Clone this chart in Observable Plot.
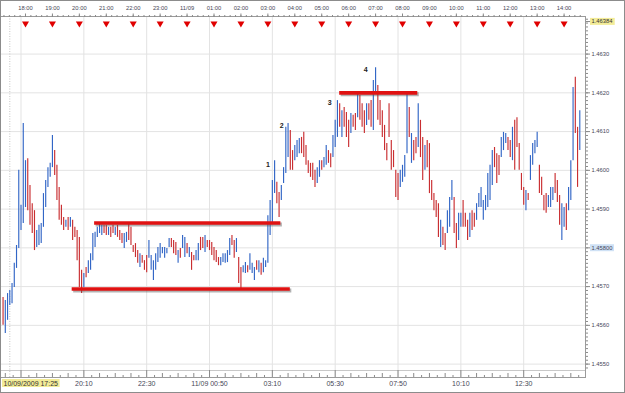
<!DOCTYPE html>
<html><head><meta charset="utf-8">
<script src="https://cdn.jsdelivr.net/npm/d3@7"></script>
<script src="https://cdn.jsdelivr.net/npm/@observablehq/plot@0.6"></script>
<style>
html,body{margin:0;padding:0;background:#fff;}
#wrap{position:relative;width:625px;height:393px;overflow:hidden;}
#wrap svg{display:block;}
#border{position:absolute;left:0;top:0;width:625px;height:393px;box-sizing:border-box;border:1px solid #8c8c8c;pointer-events:none;}
</style></head><body><div id="wrap"><div id="border"></div></div>
<script>
// ---- data ----
const startTime = "2009-09-10T17:10:00Z"; // first 5-minute bar
const barMinutes = 5;
const highs = [
1.45672,1.45664,1.45682,1.45690,1.45708,1.45760,1.45806,1.46000,1.45910,1.46121,
1.46025,1.46030,1.45961,1.45914,1.45896,1.45845,1.45858,1.45863,1.45940,1.45974,
1.46007,1.46018,1.46090,1.46051,1.46013,1.45956,1.45910,1.45878,1.45871,1.45878,
1.45878,1.45871,1.45853,1.45845,1.45827,1.45742,1.45734,1.45749,1.45767,1.45785,
1.45837,1.45840,1.45853,1.45863,1.45858,1.45858,1.45858,1.45853,1.45853,1.45858,
1.45853,1.45858,1.45845,1.45837,1.45837,1.45840,1.45863,1.45853,1.45806,1.45811,
1.45793,1.45785,1.45780,1.45767,1.45780,1.45819,1.45780,1.45767,1.45785,1.45801,
1.45811,1.45801,1.45801,1.45798,1.45824,1.45824,1.45819,1.45814,1.45793,1.45798,
1.45832,1.45827,1.45811,1.45801,1.45788,1.45780,1.45793,1.45811,1.45827,1.45827,
1.45832,1.45819,1.45819,1.45814,1.45801,1.45793,1.45775,1.45775,1.45785,1.45785,
1.45793,1.45824,1.45832,1.45819,1.45824,1.45775,1.45749,1.45754,1.45762,1.45754,
1.45785,1.45760,1.45749,1.45767,1.45767,1.45760,1.45773,1.45767,1.45883,1.45922,
1.45974,1.46025,1.45969,1.45943,1.45961,1.46007,1.46111,1.46121,1.46103,1.46051,
1.46064,1.46077,1.46082,1.46085,1.46098,1.46064,1.46025,1.46018,1.46018,1.46000,
1.46007,1.46025,1.46025,1.46033,1.46064,1.46051,1.46043,1.46090,1.46129,1.46180,
1.46172,1.46154,1.46162,1.46149,1.46129,1.46147,1.46142,1.46147,1.46198,1.46193,
1.46172,1.46154,1.46172,1.46172,1.46180,1.46232,1.46265,1.46219,1.46180,1.46154,
1.46116,1.46069,1.46172,1.46077,1.46051,1.46000,1.45992,1.46000,1.46013,1.46038,
1.46198,1.46162,1.46095,1.46077,1.46085,1.46172,1.46129,1.46085,1.46064,1.46077,
1.46069,1.45974,1.45940,1.45922,1.45914,1.45871,1.45853,1.45837,1.45896,1.45930,
1.45974,1.45930,1.45863,1.45889,1.45889,1.45922,1.45889,1.45871,1.45889,1.45896,
1.45889,1.45914,1.45940,1.45956,1.45922,1.45935,1.45992,1.46013,1.46051,1.46059,
1.46043,1.46038,1.46085,1.46098,1.46095,1.46085,1.46077,1.46111,1.46129,1.46136,
1.46069,1.45992,1.45956,1.45948,1.45940,1.46038,1.46069,1.46077,1.46098,1.46013,
1.45982,1.45935,1.45940,1.45935,1.45956,1.45956,1.45992,1.45974,1.45935,1.45914,
1.45904,1.45914,1.45956,1.46025,1.46214,1.46240,1.46111,1.46154];
const lows = [
1.45600,1.45579,1.45613,1.45651,1.45656,1.45698,1.45747,1.45798,1.45845,1.45863,
1.45904,1.45896,1.45858,1.45837,1.45793,1.45801,1.45806,1.45811,1.45853,1.45904,
1.45956,1.45982,1.46007,1.45987,1.45922,1.45871,1.45858,1.45845,1.45853,1.45845,
1.45853,1.45819,1.45827,1.45767,1.45698,1.45682,1.45698,1.45723,1.45734,1.45742,
1.45767,1.45801,1.45827,1.45837,1.45832,1.45837,1.45832,1.45832,1.45827,1.45837,
1.45832,1.45827,1.45819,1.45811,1.45798,1.45814,1.45819,1.45806,1.45788,1.45775,
1.45760,1.45749,1.45760,1.45742,1.45736,1.45773,1.45742,1.45716,1.45742,1.45762,
1.45773,1.45785,1.45773,1.45785,1.45801,1.45801,1.45785,1.45780,1.45760,1.45773,
1.45798,1.45775,1.45785,1.45775,1.45742,1.45767,1.45767,1.45767,1.45793,1.45798,
1.45788,1.45801,1.45793,1.45780,1.45767,1.45762,1.45754,1.45754,1.45762,1.45760,
1.45762,1.45780,1.45806,1.45773,1.45788,1.45708,1.45695,1.45736,1.45734,1.45736,
1.45742,1.45734,1.45716,1.45742,1.45736,1.45729,1.45736,1.45749,1.45760,1.45832,
1.45863,1.45940,1.45914,1.45878,1.45922,1.45966,1.45992,1.46033,1.46000,1.46000,
1.46025,1.46033,1.46043,1.46043,1.46033,1.46013,1.45992,1.45982,1.45974,1.45956,
1.45966,1.45982,1.46000,1.46007,1.46013,1.46018,1.46007,1.46033,1.46059,1.46085,
1.46111,1.46085,1.46111,1.46085,1.46059,1.46095,1.46111,1.46103,1.46136,1.46129,
1.46111,1.46095,1.46116,1.46129,1.46111,1.46103,1.46198,1.46129,1.46116,1.46085,
1.46051,1.46025,1.46085,1.46000,1.46007,1.45930,1.45922,1.45956,1.45969,1.45982,
1.46043,1.46085,1.46018,1.46025,1.46043,1.46059,1.46033,1.45974,1.46000,1.46007,
1.45940,1.45922,1.45896,1.45878,1.45827,1.45801,1.45806,1.45793,1.45837,1.45853,
1.45922,1.45837,1.45798,1.45819,1.45853,1.45853,1.45853,1.45819,1.45827,1.45845,
1.45853,1.45871,1.45904,1.45904,1.45871,1.45896,1.45904,1.45922,1.45961,1.46007,
1.45966,1.45987,1.46033,1.46051,1.46069,1.46051,1.46033,1.46025,1.46000,1.46059,
1.46000,1.45948,1.45910,1.45896,1.45922,1.45974,1.46013,1.46043,1.46059,1.45940,
1.45935,1.45896,1.45889,1.45904,1.45904,1.45922,1.45940,1.45917,1.45858,1.45819,
1.45853,1.45845,1.45896,1.45922,1.46025,1.46095,1.45956,1.46051];
// B = up bar (blue), R = down bar (red)
const dirs = ("RBBBBBBBBB BRRRRBBBBB BBBRRRRRBR BRRRRRBRBB BBBBBRRBRR BRRRBBRRRR RBRRRBBBBB " +
  "BBBBBRRRBR BBRBRRBBRR BRRRRRRBBB BBRRBRRBBR BBBRBRBBBB BBRRBBBBRR BBBRRRRRRR BBRBBRRBBB " +
  "RBRRRBRRBR RRBRRBBRRR RRRRRRRBBB BRBRRBRRBR RRRRRBRRBB BRRBBRRRBR RBBBBBBBBR RRBBBRRBRR " +
  "RRRBRBBBBR RRRBBBRRRB BRBBBRRB").replace(/ /g, "");

const levelPrices = [1.45864, 1.45694, 1.46200];
const levelStarts = ["2009-09-10T20:34:00Z", "2009-09-10T19:44:00Z", "2009-09-11T05:40:00Z"];
const levelEnds   = ["2009-09-11T03:29:00Z", "2009-09-11T03:50:00Z", "2009-09-11T08:34:00Z"];

const waveLabels = ["1", "2", "3", "4"];
const waveTimes  = ["2009-09-11T03:00:00Z", "2009-09-11T03:31:00Z", "2009-09-11T05:18:00Z", "2009-09-11T06:38:00Z"];
const wavePrices = [1.46015, 1.46116, 1.46174, 1.46260];

const firstHour = "2009-09-10T18:00:00Z";
const topTickLabels = ["18:00","19:00","20:00","21:00","22:00","23:00","11/09","01:00","02:00","03:00",
  "04:00","05:00","06:00","07:00","08:00","09:00","10:00","11:00","12:00","13:00","14:00"];
const firstGrid = "2009-09-10T17:50:00Z";
const gridMinutes = 140;
const bottomTickLabels = ["20:10","22:30","11/09 00:50","03:10","05:30","07:50","10:10","12:30"];
const priceTicks = [1.4550,1.4560,1.4570,1.4580,1.4590,1.4600,1.4610,1.4620,1.4630];
const priceTickLabels = ["1.4550","1.4560","1.4570","1.45800","1.4590","1.4600","1.4610","1.4620","1.4630"];
const highlightedPriceLabel = "1.45800";
const lastPrice = 1.46384;
const lastPriceLabel = "1.46384";
const leftTimeLabel = "10/09/2009 17:25";
const separatorTime = "2009-09-10T17:25:00Z";

// ---- build ----
const T = s => new Date(s);
const t0 = T(startTime);
const bars = highs.map((h, i) => ({
  t: new Date(+t0 + i * barMinutes * 60000), high: h, low: lows[i],
  col: dirs[i] === "B" ? "#3266c6" : "#c92e31"
}));
const levels = levelPrices.map((p, i) => ({p, a: T(levelStarts[i]), b: T(levelEnds[i])}));
const waves = waveLabels.map((s, i) => ({s, t: T(waveTimes[i]), p: wavePrices[i]}));

const xDomain = [T("2009-09-10T17:04:18Z"), T("2009-09-11T14:47:42Z")];
const yDomain = [1.454835, 1.46397];

const hourTimes = topTickLabels.map((_, i) => new Date(+T(firstHour) + i * 3600000));
const topLabelOf = new Map(hourTimes.map((d, i) => [+d, topTickLabels[i]]));
const ruler12 = d3.utcMinute.every(12).range(xDomain[0], xDomain[1]);
const gridTimes = d3.range(0, 9).map(k => new Date(+T(firstGrid) + k * gridMinutes * 60000));
const bottomLabelTimes = gridTimes.slice(1);
const bottomLabelOf = new Map(bottomLabelTimes.map((d, i) => [+d, bottomTickLabels[i]]));
const minorBottom = d3.range(-2, 80)
  .filter(k => k % 8 !== 0)
  .map(k => ({t: new Date(+T(firstGrid) + k * gridMinutes / 8 * 60000), mid: k % 2 === 0}))
  .filter(d => d.t > xDomain[0] && d.t < xDomain[1]);
const pipTicks = d3.range(14548, 14640).map(k => k / 10000).filter(p => p > yDomain[0] && p < yDomain[1]);
const priceLabelRows = priceTicks.map((p, i) => ({p, s: priceTickLabels[i]}));

const narrow = "'Liberation Sans Narrow','Arial Narrow','Liberation Sans',Arial,sans-serif";
const sans = "'Liberation Sans',Arial,sans-serif";
const frameH = 393 - 16 - 16;

const plot = Plot.plot({
  width: 625, height: 393,
  marginTop: 16, marginBottom: 16, marginLeft: 0, marginRight: 40,
  style: {background: "#fff", color: "#474757", fontFamily: sans},
  x: {type: "utc", domain: xDomain, axis: null},
  y: {domain: yDomain, range: [370, 16], axis: null},
  color: {type: "identity"},
  marks: [
    Plot.ruleY(priceTicks, {stroke: "#e3e3e3"}),
    Plot.ruleX(gridTimes, {stroke: "#e3e3e3"}),
    Plot.ruleX([T(separatorTime)], {stroke: "#c4c4c4", strokeDasharray: "1,1.5"}),
    Plot.ruleY([yDomain[0]], {stroke: "#c8c8c8"}),
    Plot.frame({stroke: "#9a9a9a"}),
    // bars
    Plot.ruleX(bars, {x: "t", y1: "low", y2: "high", stroke: "col", strokeWidth: 1.15}),
    // support / resistance lines
    Plot.ruleY(levels, {y: "p", x1: "a", x2: "b", stroke: "#555", strokeOpacity: 0.45, strokeWidth: 4, dx: 1.5, dy: 1.5}),
    Plot.ruleY(levels, {y: "p", x1: "a", x2: "b", stroke: "#e01212", strokeWidth: 3.6}),
    // wave labels
    Plot.text(waves, {x: "t", y: "p", text: "s", fontSize: 7, fontWeight: "bold", fill: "#222", fontFamily: sans}),
    // top ruler + labels
    Plot.axisX({ticks: ruler12, anchor: "top", tickSize: 2, tickFormat: () => "", stroke: "#8a8a8a"}),
    Plot.axisX({ticks: hourTimes, anchor: "top", tickSize: 3.5, tickPadding: 3, stroke: "#8a8a8a",
      tickFormat: d => topLabelOf.get(+d), fontSize: 5.8, fontFamily: narrow}),
    Plot.dot(hourTimes, {x: d => d, frameAnchor: "top", dy: 7, symbol: "triangle", rotate: 180, r: 2.6, fill: "#e00000"}),
    // bottom ruler + labels
    Plot.ruleX(minorBottom, {x: "t", stroke: "#8a8a8a", insetTop: frameH - 2, filter: d => !d.mid}),
    Plot.ruleX(minorBottom, {x: "t", stroke: "#8a8a8a", insetTop: frameH - 4, filter: d => d.mid}),
    Plot.ruleX(gridTimes, {stroke: "#8a8a8a", insetTop: frameH - 7}),
    Plot.axisX({ticks: bottomLabelTimes, anchor: "bottom", tickSize: 0, tickPadding: 4,
      tickFormat: d => bottomLabelOf.get(+d), fontSize: 7, fontFamily: sans}),
    Plot.text([leftTimeLabel], {frameAnchor: "bottom-left", dx: 3, dy: 8, textAnchor: "start",
      fontSize: 7, fontFamily: sans, fill: "#333"}),
    // right price axis
    Plot.axisY({ticks: pipTicks, anchor: "right", tickSize: 2, tickFormat: () => "", stroke: "#8a8a8a"}),
    Plot.axisY({ticks: priceTicks.concat([lastPrice]), anchor: "right", tickSize: 4, tickFormat: () => "", stroke: "#8a8a8a"}),
    Plot.text(priceLabelRows, {y: "p", text: "s", frameAnchor: "right", dx: 6,
      textAnchor: "start", fontSize: 5.8, fontFamily: narrow, fill: "#474757"}),
    Plot.text([lastPrice], {y: d => d, text: () => lastPriceLabel, frameAnchor: "right", dx: 6,
      textAnchor: "start", fontSize: 5.8, fontFamily: narrow, fill: "#333"})
  ]
});
document.getElementById("wrap").prepend(plot);

// label backgrounds sized from the rendered text
const NS = "http://www.w3.org/2000/svg";
const highlight = new Map([[leftTimeLabel, "#f3ec98"], [lastPriceLabel, "#f3ec98"], [highlightedPriceLabel, "#cfe1f5"]]);
plot.querySelectorAll("text").forEach(t => {
  const fill = highlight.get(t.textContent);
  if (!fill) return;
  const b = t.getBBox();
  const r = document.createElementNS(NS, "rect");
  r.setAttribute("x", b.x - 1.5);
  r.setAttribute("y", b.y - 0.5);
  r.setAttribute("width", b.width + 3);
  r.setAttribute("height", b.height + 1);
  r.setAttribute("fill", fill);
  if (t.getAttribute("transform")) r.setAttribute("transform", t.getAttribute("transform"));
  t.parentNode.insertBefore(r, t);
});
</script>
</body></html>
